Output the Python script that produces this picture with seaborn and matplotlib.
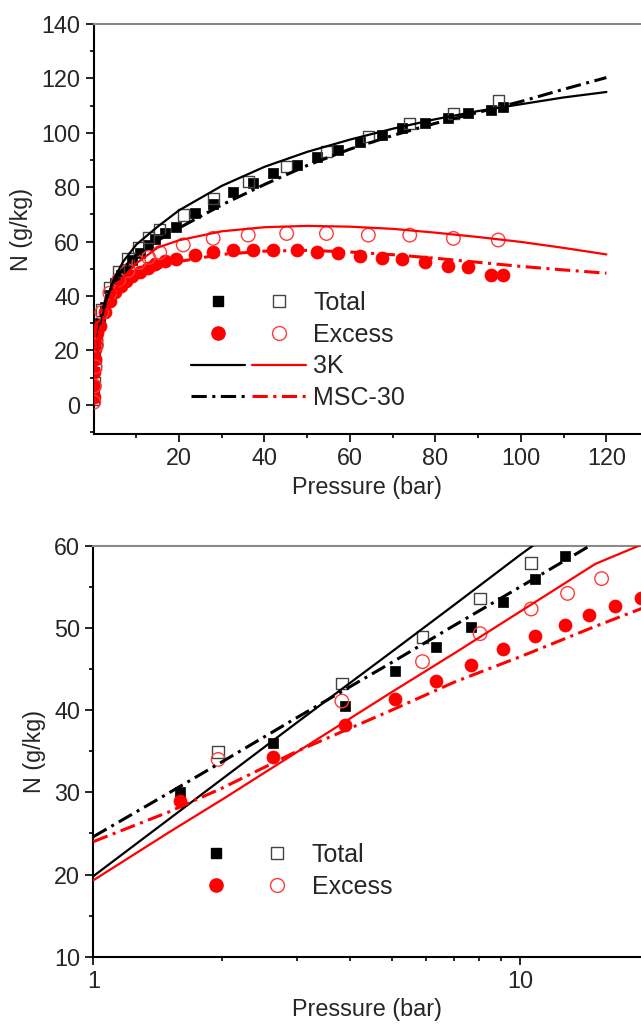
import matplotlib
matplotlib.use('Agg')
import matplotlib.pyplot as plt
import seaborn as sns
from matplotlib.lines import Line2D
from matplotlib.legend_handler import HandlerTuple
from matplotlib.ticker import FixedLocator, MultipleLocator, NullFormatter

# measured uptake: filled = 3K sample points, open = MSC-30 points
filled_p = [0.03, 0.08, 0.15, 0.25, 0.4, 0.6, 0.85, 1.6, 2.63, 3.89, 5.1, 6.35,
            7.65, 9.1, 10.8, 12.7, 14.5, 16.7, 19.2, 23.7, 28, 32.7, 37.4, 42.1,
            47.5, 52.2, 57.3, 62.3, 67.4, 72.1, 77.5, 83, 87.7, 93.1, 95.9]
filled_total = [3, 7, 12, 17, 21, 25, 28, 30.1, 36, 40.5, 44.7, 47.7,
                50.1, 53.2, 55.9, 58.7, 61, 63.2, 65.5, 70.4, 74, 78.3, 81.5, 85.1,
                88.2, 91.2, 93.7, 96.5, 99.2, 101.8, 103.5, 105.3, 107.2, 108.4, 109.6]
filled_excess = [3, 7, 12, 17, 20.5, 24, 26.5, 28.9, 34.3, 38.2, 41.4, 43.6,
                 45.5, 47.4, 49, 50.4, 51.6, 52.7, 53.6, 55.1, 56.3, 56.9, 56.9, 56.9,
                 56.9, 56.3, 55.7, 54.7, 53.9, 53.5, 52.6, 51.1, 50.8, 47.7, 47.7]

open_p = [0.05, 0.15, 0.35, 0.7, 1.96, 3.82, 5.9, 8.05, 10.6, 12.9, 15.5, 21,
          28, 36.2, 45.2, 54.5, 64.3, 74, 84.2, 94.7]
open_total = [2, 8, 15, 23, 34.9, 43.2, 48.9, 53.6, 57.9, 61.5, 64.5, 69.8,
              75.9, 82, 87.5, 93, 98.6, 103.5, 107.2, 112]
open_excess = [1, 7, 14, 22, 34, 41.1, 45.9, 49.3, 52.3, 54.2, 56, 58.8,
               61.2, 62.4, 63, 63, 62.4, 62.4, 61.2, 60.6]

# model curves
model_p = [1, 1.5, 2, 3, 5, 7, 10, 15, 20, 30, 40, 50, 60, 70, 80, 90, 100, 110, 120]
k3_total = [19.8, 26.7, 31.6, 38.5, 47.1, 52.8, 58.9, 65.5, 71.5, 80.5, 87.5, 93,
            97.5, 101.5, 105, 108, 110.5, 113, 115]
k3_excess = [19.3, 25.1, 29.1, 34.9, 42.2, 46.9, 52, 57.8, 60.5, 63.8, 65.3, 65.8,
             65.5, 64.7, 63.3, 61.7, 59.9, 57.7, 55.3]
msc_total = [24.6, 29.9, 33.7, 39.1, 45.8, 50.3, 55, 60.4, 65, 73.5, 81, 88,
             94, 99, 103.5, 107.5, 111.5, 116, 120.3]
msc_excess = [24, 27.6, 30.5, 35, 40, 43.4, 46.5, 50.2, 52.7, 55.3, 56.5, 56.8,
              56.2, 55.2, 53.9, 52.4, 50.9, 49.6, 48.4]

RED = '#ff0000'
OPEN_RED = '#ff3b3b'
DASHDOT = (0, (5, 1.8, 1, 1.8))

sns.set_style('ticks')
plt.rcParams['font.family'] = ['Liberation Sans', 'DejaVu Sans']
plt.rcParams['font.size'] = 16.8

fig = plt.figure(figsize=(6.41, 10.25), dpi=100)
ax1 = fig.add_axes([0.1459, 0.5766, 0.8541, 0.4])
ax2 = fig.add_axes([0.1456, 0.0666, 0.8544, 0.401])


def draw(ax):
    sns.scatterplot(x=filled_p, y=filled_total, marker='s', color='black', s=55,
                    edgecolor='black', linewidth=0.5, ax=ax, zorder=3)
    sns.scatterplot(x=open_p, y=open_total, marker='s', color='#444444',
                    facecolor='none', edgecolor='#444444', s=66, linewidth=1.0,
                    ax=ax, zorder=3)
    sns.scatterplot(x=filled_p, y=filled_excess, marker='o', color=RED, s=88,
                    edgecolor=RED, linewidth=0.5, ax=ax, zorder=3)
    sns.scatterplot(x=open_p, y=open_excess, marker='o', color=OPEN_RED,
                    facecolor='none', edgecolor=OPEN_RED, s=95, linewidth=1.0,
                    ax=ax, zorder=3)
    sns.lineplot(x=model_p, y=k3_total, color='black', lw=1.6, ax=ax, zorder=4)
    sns.lineplot(x=model_p, y=k3_excess, color=RED, lw=1.6, ax=ax, zorder=4)
    sns.lineplot(x=model_p, y=msc_total, color='black', lw=2.2,
                 linestyle=DASHDOT, ax=ax, zorder=4)
    sns.lineplot(x=model_p, y=msc_excess, color=RED, lw=2.2,
                 linestyle=DASHDOT, ax=ax, zorder=4)


def style_axes(ax):
    for s in ['left', 'bottom']:
        ax.spines[s].set_linewidth(1.5)
        ax.spines[s].set_color('black')
    ax.spines['top'].set_visible(True)
    ax.spines['top'].set_color('#8a8a8a')
    ax.spines['top'].set_linewidth(1.5)
    ax.spines['right'].set_visible(False)
    ax.tick_params(which='major', direction='out', length=6, width=1.2,
                   labelsize=16.8, color='black', top=False, right=False)
    ax.tick_params(which='minor', direction='out', length=3, width=1.2,
                   color='black', top=False, right=False)
    ax.set_xlabel('Pressure (bar)', fontsize=16.8, labelpad=4)
    ax.set_ylabel('N (g/kg)', fontsize=16.8, labelpad=6)


# top panel: linear pressure
draw(ax1)
ax1.set_xlim(0, 128.1)
ax1.set_ylim(-10.7, 140)
ax1.xaxis.set_major_locator(FixedLocator([20, 40, 60, 80, 100, 120]))
ax1.xaxis.set_minor_locator(FixedLocator([10, 30, 50, 70, 90, 110]))
ax1.yaxis.set_major_locator(MultipleLocator(20))
ax1.yaxis.set_minor_locator(MultipleLocator(10))
style_axes(ax1)

# bottom panel: log pressure
draw(ax2)
ax2.set_xscale('log')
ax2.set_xlim(1, 19.17)
ax2.set_ylim(10, 60)
ax2.xaxis.set_major_locator(FixedLocator([1, 10]))
ax2.xaxis.set_major_formatter(plt.FixedFormatter(['1', '10']))
ax2.xaxis.set_minor_locator(FixedLocator([2, 3, 4, 5, 6, 7, 8, 9]))
ax2.xaxis.set_minor_formatter(NullFormatter())
ax2.yaxis.set_major_locator(MultipleLocator(10))
ax2.yaxis.set_minor_locator(MultipleLocator(5))
style_axes(ax2)

# legends
h_fsq = Line2D([], [], marker='s', ls='none', color='black', ms=7.5)
h_osq = Line2D([], [], marker='s', ls='none', mfc='none', mec='#444444', ms=8, mew=1.0)
h_fci = Line2D([], [], marker='o', ls='none', color=RED, ms=9.5)
h_oci = Line2D([], [], marker='o', ls='none', mfc='none', mec=OPEN_RED, ms=10, mew=1.0)
h_k3b = Line2D([], [], color='black', lw=1.6)
h_k3r = Line2D([], [], color=RED, lw=1.6)
h_mb = Line2D([], [], color='black', lw=2.2, ls=DASHDOT)
h_mr = Line2D([], [], color=RED, lw=2.2, ls=DASHDOT)

leg_kw = dict(handler_map={tuple: HandlerTuple(ndivide=None, pad=0.3)},
              frameon=False, fontsize=18, handlelength=4.6, handletextpad=0.3,
              labelspacing=0.31, borderpad=0, borderaxespad=0, loc='upper left')

ax1.legend([(h_fsq, h_osq), (h_fci, h_oci), (h_k3b, h_k3r), (h_mb, h_mr)],
           ['Total', 'Excess', '3K', 'MSC-30'],
           bbox_to_anchor=(0.178, 0.349), **leg_kw)
ax2.legend([(h_fsq, h_osq), (h_fci, h_oci)], ['Total', 'Excess'],
           bbox_to_anchor=(0.175, 0.277), **leg_kw)

plt.savefig('out.png', dpi=100)
plt.close()
